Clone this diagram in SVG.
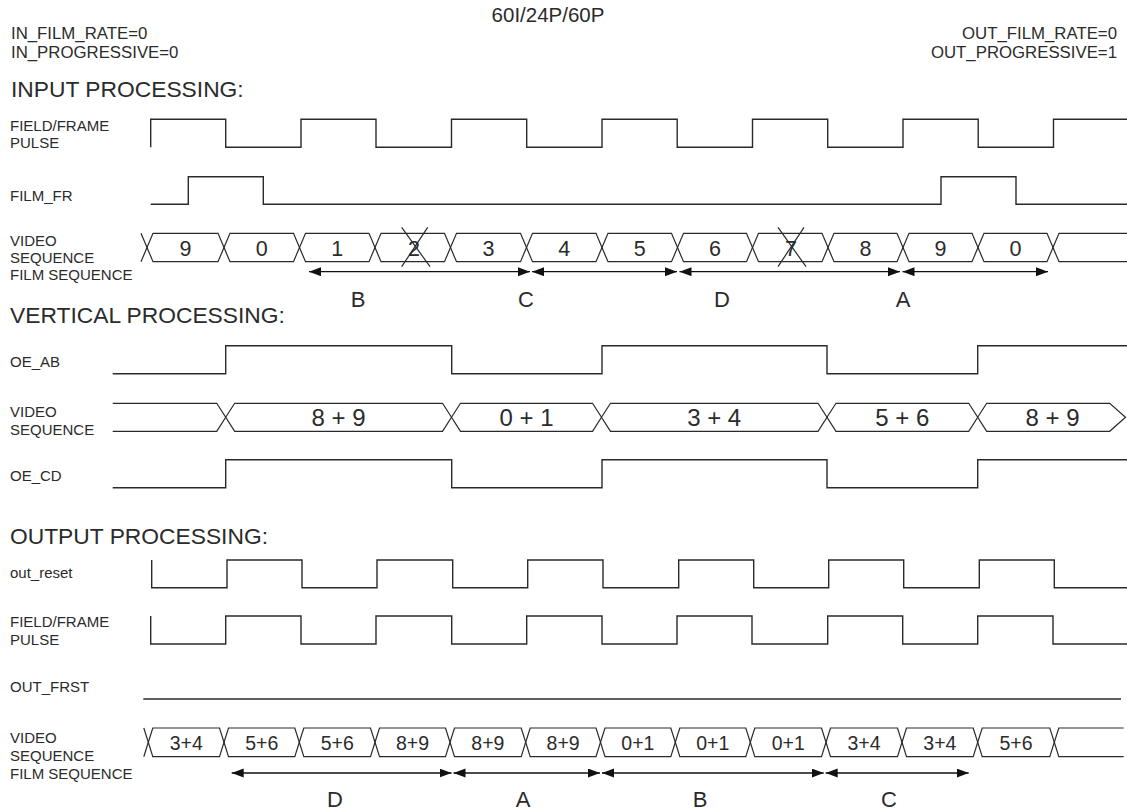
<svg xmlns="http://www.w3.org/2000/svg" width="1127" height="812" viewBox="0 0 1127 812">
<style>
text{font-family:"Liberation Sans",Arial,sans-serif;fill:#2b2b2b}
.lbl{font-size:15px}
.hdr{font-size:16.8px}
.sec{font-size:22.8px}
.sig{fill:none;stroke:#2a2a2a;stroke-width:1.4}
.bus{fill:none;stroke:#2a2a2a;stroke-width:1.2}
.d20{font-size:21.5px;text-anchor:middle}
.d18{font-size:19.5px;text-anchor:middle}
.d23{font-size:24px;text-anchor:middle}
.ph{font-size:22px;text-anchor:middle}
.arr{stroke:#111;stroke-width:1.3;marker-start:url(#ah);marker-end:url(#ah)}
</style>
<defs>
<marker id="ah" markerUnits="userSpaceOnUse" markerWidth="13" markerHeight="10" refX="12" refY="4.5" orient="auto-start-reverse" viewBox="0 0 13 10">
<path d="M0,0 L12,4.5 L0,9 Z" fill="#111"/>
</marker>
</defs>
<rect width="1127" height="812" fill="#fff"/>

<g id="header">
<text x="548" y="22" style="font-size:20.5px;text-anchor:middle">60I/24P/60P</text>
<text class="hdr" x="11" y="38.5">IN_FILM_RATE=0</text>
<text class="hdr" x="11" y="57.5">IN_PROGRESSIVE=0</text>
<text class="hdr" x="1117" y="38.5" text-anchor="end">OUT_FILM_RATE=0</text>
<text class="hdr" x="1117" y="57.5" text-anchor="end">OUT_PROGRESSIVE=1</text>
<text class="sec" x="11" y="97">INPUT PROCESSING:</text>
<text class="sec" x="10" y="323">VERTICAL PROCESSING:</text>
<text class="sec" x="10" y="544">OUTPUT PROCESSING:</text>
</g>

<g id="in_field_frame_pulse">
<text class="lbl" x="10" y="131">FIELD/FRAME</text>
<text class="lbl" x="10" y="148">PULSE</text>
<path class="sig" d="M150.7,147.3 V119.3 H225.7 V147.3 H301 V119.3 H376 V147.3 H451.5 V119.3 H526.7 V147.3 H602 V119.3 H677.2 V147.3 H752.5 V119.3 H827.7 V147.3 H903 V119.3 H978.2 V147.3 H1053.5 V119.3 H1127"/>
</g>

<g id="in_film_fr">
<text class="lbl" x="10" y="201">FILM_FR</text>
<path class="sig" d="M150.7,204.3 H188.3 V176.7 H263.3 V204.3 H941 V176.7 H1016 V204.3 H1127"/>
</g>

<g id="in_video_sequence">
<text class="lbl" x="10" y="246">VIDEO</text>
<text class="lbl" x="10" y="263">SEQUENCE</text>
<text class="lbl" x="10" y="280">FILM SEQUENCE</text>
<path class="bus" d="M141,233.3 L147,247.5 L141,261.7"/>
<path class="bus" d="M147,247.5 L153,233.3 H218 L224,247.5 L218,261.7 H153 Z"/>
<path class="bus" d="M224,247.5 L230,233.3 H293.5 L299.5,247.5 L293.5,261.7 H230 Z"/>
<path class="bus" d="M299.5,247.5 L305.5,233.3 H369 L375,247.5 L369,261.7 H305.5 Z"/>
<path class="bus" d="M375,247.5 L381,233.3 H444.5 L450.5,247.5 L444.5,261.7 H381 Z"/>
<path class="bus" d="M450.5,247.5 L456.5,233.3 H520.5 L526.5,247.5 L520.5,261.7 H456.5 Z"/>
<path class="bus" d="M526.5,247.5 L532.5,233.3 H596 L602,247.5 L596,261.7 H532.5 Z"/>
<path class="bus" d="M602,247.5 L608,233.3 H671.5 L677.5,247.5 L671.5,261.7 H608 Z"/>
<path class="bus" d="M677.5,247.5 L683.5,233.3 H746.5 L752.5,247.5 L746.5,261.7 H683.5 Z"/>
<path class="bus" d="M752.5,247.5 L758.5,233.3 H822 L828,247.5 L822,261.7 H758.5 Z"/>
<path class="bus" d="M828,247.5 L834,233.3 H897 L903,247.5 L897,261.7 H834 Z"/>
<path class="bus" d="M903,247.5 L909,233.3 H972 L978,247.5 L972,261.7 H909 Z"/>
<path class="bus" d="M978,247.5 L984,233.3 H1047 L1053,247.5 L1047,261.7 H984 Z"/>
<path class="bus" d="M1127,233.3 H1059 L1053,247.5 L1059,261.7 H1127"/>
<text class="d20" x="185.5" y="255.5">9</text>
<text class="d20" x="261.8" y="255.5">0</text>
<text class="d20" x="337.3" y="255.5">1</text>
<text class="d20" x="414" y="255.5">2</text>
<text class="d20" x="488.5" y="255.5">3</text>
<text class="d20" x="564.3" y="255.5">4</text>
<text class="d20" x="639.8" y="255.5">5</text>
<text class="d20" x="715" y="255.5">6</text>
<text class="d20" x="791" y="255.5">7</text>
<text class="d20" x="865.5" y="255.5">8</text>
<text class="d20" x="940.5" y="255.5">9</text>
<text class="d20" x="1015.5" y="255.5">0</text>
<path class="bus" d="M401.7,227.3 L430,266.7 M427.7,227.3 L401.7,266.7"/>
<path class="bus" d="M778,227.3 L806,266.7 M804,227.3 L778,266.7"/>
<text class="ph" x="358" y="307">B</text>
<text class="ph" x="526" y="307">C</text>
<text class="ph" x="722" y="307">D</text>
<text class="ph" x="903" y="307">A</text>
</g>

<g id="oe_ab">
<text class="lbl" x="10" y="367">OE_AB</text>
<path class="sig" d="M112.7,373.7 H225.7 V345.7 H451.7 V373.7 H602 V345.7 H827 V373.7 H977.7 V345.7 H1127"/>
</g>

<g id="vert_video_sequence">
<text class="lbl" x="10" y="417">VIDEO</text>
<text class="lbl" x="10" y="435">SEQUENCE</text>
<path class="bus" d="M112.7,403.3 H216.7 L225.7,417.3 L216.7,431.3 H112.7"/>
<path class="bus" d="M225.7,417.3 L234.7,403.3 H442.5 L451.5,417.3 L442.5,431.3 H234.7 Z"/>
<path class="bus" d="M451.5,417.3 L460.5,403.3 H592.5 L601.5,417.3 L592.5,431.3 H460.5 Z"/>
<path class="bus" d="M601.5,417.3 L610.5,403.3 H818 L827,417.3 L818,431.3 H610.5 Z"/>
<path class="bus" d="M827,417.3 L836,403.3 H968.7 L977.7,417.3 L968.7,431.3 H836 Z"/>
<path class="bus" d="M977.7,417.3 L986.7,403.3 H1109.7 L1125.5,417.3 L1109.7,431.3 H986.7 Z"/>
<text class="d23" x="338.6" y="426.2">8 + 9</text>
<text class="d23" x="526.5" y="426.2">0 + 1</text>
<text class="d23" x="714.2" y="426.2">3 + 4</text>
<text class="d23" x="902.3" y="426.2">5 + 6</text>
<text class="d23" x="1052.5" y="426.2">8 + 9</text>
</g>

<g id="oe_cd">
<text class="lbl" x="10" y="481">OE_CD</text>
<path class="sig" d="M112.7,487.7 H225.7 V459.7 H451.7 V487.7 H602 V459.7 H827 V487.7 H977.7 V459.7 H1127"/>
</g>

<g id="out_reset">
<text class="lbl" x="10" y="578">out_reset</text>
<path class="sig" d="M151.7,560 V587.7 H227 V560 H302 V587.7 H377 V560 H452.7 V587.7 H527.7 V560 H603 V587.7 H678.7 V560 H753.7 V587.7 H828.7 V560 H903.7 V587.7 H979.3 V560 H1054.3 V587.7 H1127"/>
</g>

<g id="out_field_frame_pulse">
<text class="lbl" x="10" y="627">FIELD/FRAME</text>
<text class="lbl" x="10" y="645">PULSE</text>
<path class="sig" d="M150.7,616 V644 H225.7 V616 H301 V644 H376 V616 H451.7 V644 H526.7 V616 H602 V644 H677 V616 H752 V644 H827.7 V616 H902.7 V644 H977.7 V616 H1053 V644 H1127"/>
</g>

<g id="out_frst">
<text class="lbl" x="10" y="692">OUT_FRST</text>
<path class="sig" d="M143.3,699 H1121"/>
</g>

<g id="out_video_sequence">
<text class="lbl" x="10" y="743">VIDEO</text>
<text class="lbl" x="10" y="761">SEQUENCE</text>
<text class="lbl" x="10" y="779">FILM SEQUENCE</text>
<path class="bus" d="M143.8,728 L148.3,742.3 L143.8,756.7"/>
<path class="bus" d="M148.3,742.3 L152.8,728 H219.5 L224,742.3 L219.5,756.7 H152.8 Z"/>
<path class="bus" d="M224,742.3 L228.5,728 H294.8 L299.3,742.3 L294.8,756.7 H228.5 Z"/>
<path class="bus" d="M299.3,742.3 L303.8,728 H370.5 L375,742.3 L370.5,756.7 H303.8 Z"/>
<path class="bus" d="M375,742.3 L379.5,728 H445.5 L450,742.3 L445.5,756.7 H379.5 Z"/>
<path class="bus" d="M450,742.3 L454.5,728 H521.2 L525.7,742.3 L521.2,756.7 H454.5 Z"/>
<path class="bus" d="M525.7,742.3 L530.2,728 H596 L600.5,742.3 L596,756.7 H530.2 Z"/>
<path class="bus" d="M600.5,742.3 L605,728 H670.8 L675.3,742.3 L670.8,756.7 H605 Z"/>
<path class="bus" d="M675.3,742.3 L679.8,728 H745.8 L750.3,742.3 L745.8,756.7 H679.8 Z"/>
<path class="bus" d="M750.3,742.3 L754.8,728 H821.5 L826,742.3 L821.5,756.7 H754.8 Z"/>
<path class="bus" d="M826,742.3 L830.5,728 H897.5 L902,742.3 L897.5,756.7 H830.5 Z"/>
<path class="bus" d="M902,742.3 L906.5,728 H973.2 L977.7,742.3 L973.2,756.7 H906.5 Z"/>
<path class="bus" d="M977.7,742.3 L982.2,728 H1049.8 L1054.3,742.3 L1049.8,756.7 H982.2 Z"/>
<path class="bus" d="M1123.7,728 H1058.8 L1054.3,742.3 L1058.8,756.7 H1123.7"/>
<text class="d18" x="186.2" y="749.5">3+4</text>
<text class="d18" x="261.7" y="749.5">5+6</text>
<text class="d18" x="337.2" y="749.5">5+6</text>
<text class="d18" x="412.5" y="749.5">8+9</text>
<text class="d18" x="487.9" y="749.5">8+9</text>
<text class="d18" x="563.1" y="749.5">8+9</text>
<text class="d18" x="637.9" y="749.5">0+1</text>
<text class="d18" x="712.8" y="749.5">0+1</text>
<text class="d18" x="788.2" y="749.5">0+1</text>
<text class="d18" x="864" y="749.5">3+4</text>
<text class="d18" x="939.9" y="749.5">3+4</text>
<text class="d18" x="1016" y="749.5">5+6</text>
<text class="ph" x="335" y="807">D</text>
<text class="ph" x="523" y="807">A</text>
<text class="ph" x="700" y="807">B</text>
<text class="ph" x="889" y="807">C</text>
</g>

<g id="connectors">
<line class="arr" x1="309" y1="271.7" x2="530" y2="271.7"/>
<line class="arr" x1="532" y1="271.7" x2="677" y2="271.7"/>
<line class="arr" x1="679.5" y1="271.7" x2="900" y2="271.7"/>
<line class="arr" x1="902.5" y1="271.7" x2="1048" y2="271.7"/>
<line class="arr" x1="231.7" y1="773" x2="451.5" y2="773"/>
<line class="arr" x1="453.5" y1="773" x2="600" y2="773"/>
<line class="arr" x1="602" y1="773" x2="823.7" y2="773"/>
<line class="arr" x1="825.7" y1="773" x2="968.7" y2="773"/>
</g>
</svg>
